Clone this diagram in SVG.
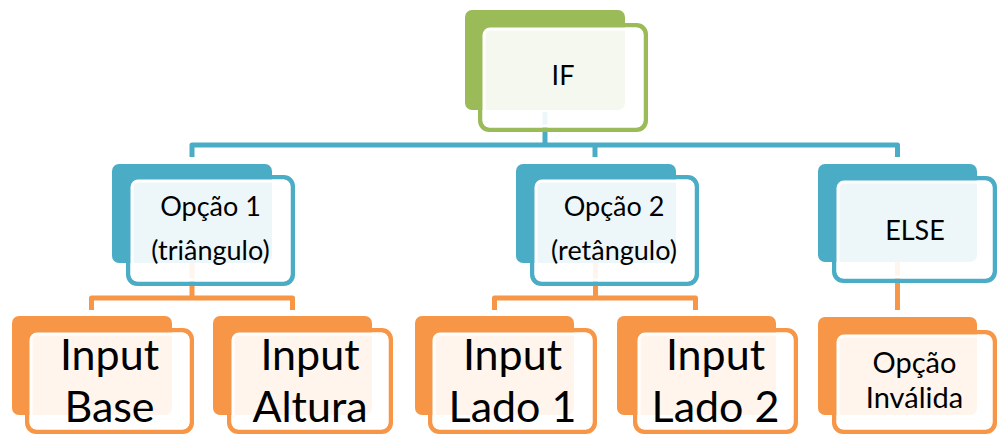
<svg xmlns="http://www.w3.org/2000/svg" width="998" height="435" viewBox="0 0 998 435">
<style>
.bg{fill:#ffffff}
.bk{stroke:none}
.fo{fill:none;stroke-width:4.5}
.fi{fill:#ffffff;fill-opacity:0.9;stroke:#ffffff;stroke-width:3}
.g .bk{fill:#9BBB59}.g .fo{stroke:#9BBB59}
.b .bk{fill:#4BACC6}.b .fo{stroke:#4BACC6}
.o .bk{fill:#F79646}.o .fo{stroke:#F79646}
.cb{fill:none;stroke:#4BACC6;stroke-width:5;stroke-linejoin:round}
.co{fill:none;stroke:#F79646;stroke-width:5;stroke-linejoin:round}
text{font-family:Lato,"Open Sans","Liberation Sans",sans-serif;fill:#000000;text-anchor:middle}
.m{font-size:27px}
.s{font-size:29px}
.l{font-size:43px}
</style>
<rect class="bg" x="0" y="0" width="998" height="435"/>
<g id="connectors">
<path class="cb" d="M545 112V145"/>
<path class="cb" d="M192 157V145H897.5V157"/>
<path class="cb" d="M595 145V157"/>
<path class="co" d="M192 263V298"/>
<path class="co" d="M91.5 310V298H292.5V310"/>
<path class="co" d="M595.5 263V298"/>
<path class="co" d="M494.5 310V298H695.5V310"/>
<path class="co" d="M897.5 262V310"/>
</g>
<g id="node-if" class="g">
<rect class="bk" x="465" y="10" width="160" height="100" rx="7"/>
<rect class="fo" x="480.25" y="25.25" width="165.5" height="104.5" rx="9"/>
<rect class="fi" x="484" y="29" width="158" height="97" rx="6"/>
<text class="m" x="563" y="85">IF</text>
</g>
<g id="node-opcao1" class="b">
<rect class="bk" x="112" y="164" width="160" height="99" rx="7"/>
<rect class="fo" x="128.25" y="177.25" width="164.5" height="106.5" rx="9"/>
<rect class="fi" x="132" y="181" width="157" height="99" rx="6"/>
<text class="m" x="210.5" y="216">Opção 1</text>
<text class="m" x="210.5" y="260">(triângulo)</text>
</g>
<g id="node-opcao2" class="b">
<rect class="bk" x="516" y="164" width="160" height="99" rx="7"/>
<rect class="fo" x="532.25" y="177.25" width="164.5" height="106.5" rx="9"/>
<rect class="fi" x="536" y="181" width="157" height="99" rx="6"/>
<text class="m" x="614" y="216">Opção 2</text>
<text class="m" x="614" y="260">(retângulo)</text>
</g>
<g id="node-else" class="b">
<rect class="bk" x="818" y="164" width="159" height="98" rx="7"/>
<rect class="fo" x="834.25" y="178.25" width="160.5" height="102.5" rx="9"/>
<rect class="fi" x="838" y="182" width="153" height="95" rx="6"/>
<text class="m" x="915" y="240">ELSE</text>
</g>
<g id="node-base" class="o">
<rect class="bk" x="12" y="316" width="160" height="99" rx="7"/>
<rect class="fo" x="27.25" y="330.25" width="164.5" height="101.5" rx="9"/>
<rect class="fi" x="31" y="334" width="157" height="94" rx="6"/>
<text class="l" x="109.5" y="370">Input</text>
<text class="l" x="109.5" y="422">Base</text>
</g>
<g id="node-altura" class="o">
<rect class="bk" x="213" y="316" width="159" height="99" rx="7"/>
<rect class="fo" x="229.25" y="330.25" width="161.5" height="101.5" rx="9"/>
<rect class="fi" x="233" y="334" width="154" height="94" rx="6"/>
<text class="l" x="310" y="370">Input</text>
<text class="l" x="310" y="422">Altura</text>
</g>
<g id="node-lado1" class="o">
<rect class="bk" x="415" y="316" width="159" height="99" rx="7"/>
<rect class="fo" x="430.25" y="330.25" width="164.5" height="101.5" rx="9"/>
<rect class="fi" x="434" y="334" width="157" height="94" rx="6"/>
<text class="l" x="512.5" y="370">Input</text>
<text class="l" x="512.5" y="422">Lado 1</text>
</g>
<g id="node-lado2" class="o">
<rect class="bk" x="617" y="316" width="159" height="99" rx="7"/>
<rect class="fo" x="635.25" y="330.25" width="160.5" height="101.5" rx="9"/>
<rect class="fi" x="639" y="334" width="153" height="94" rx="6"/>
<text class="l" x="715.5" y="370">Input</text>
<text class="l" x="715.5" y="422">Lado 2</text>
</g>
<g id="node-invalida" class="o">
<rect class="bk" x="818" y="317" width="159" height="98" rx="7"/>
<rect class="fo" x="834.25" y="332.25" width="160.5" height="99.5" rx="9"/>
<rect class="fi" x="838" y="336" width="153" height="92" rx="6"/>
<text class="s" x="914.5" y="373">Opção</text>
<text class="s" x="914.5" y="408">Inválida</text>
</g>
</svg>
